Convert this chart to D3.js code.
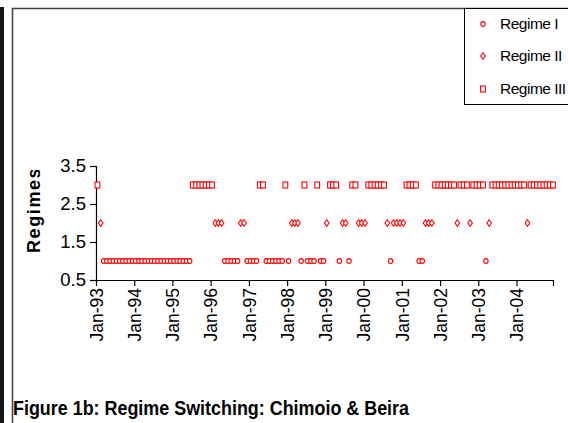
<!DOCTYPE html>
<html>
<head>
<meta charset="utf-8">
<script src="https://cdn.jsdelivr.net/npm/d3@7"></script>
<style>
  html, body { margin: 0; padding: 0; background: #fff; }
  svg { display: block; }
  text { font-family: "Liberation Sans", Arial, sans-serif; }
</style>
</head>
<body>
<svg id="chart" width="568" height="423"></svg>
<script>
// Monthly regime classification, Jan-1993 .. Dec-2004 (one row per year)
const years = [1993, 1994, 1995, 1996, 1997, 1998, 1999, 2000, 2001, 2002, 2003, 2004];
const regimeRows = [
  [3, 2, 1, 1, 1, 1, 1, 1, 1, 1, 1, 1],
  [1, 1, 1, 1, 1, 1, 1, 1, 1, 1, 1, 1],
  [1, 1, 1, 1, 1, 1, 3, 3, 3, 3, 3, 3],
  [3, 2, 2, 2, 1, 1, 1, 1, 1, 2, 2, 1],
  [1, 1, 1, 3, 3, 1, 1, 1, 1, 1, 1, 3],
  [1, 2, 2, 2, 1, 3, 1, 1, 1, 3, 1, 1],
  [2, 3, 3, 3, 1, 2, 2, 1, 3, 3, 2, 2],
  [2, 3, 3, 3, 3, 3, 3, 2, 1, 2, 2, 2],
  [2, 3, 3, 3, 3, 1, 1, 2, 2, 2, 3, 3],
  [3, 3, 3, 3, 3, 2, 3, 3, 3, 2, 3, 3],
  [3, 3, 1, 2, 3, 3, 3, 3, 3, 3, 3, 3],
  [3, 3, 3, 2, 3, 3, 3, 3, 3, 3, 3, 3]
];
const seriesNames = ["Regime I", "Regime II", "Regime III"];
const yTicks = [0.5, 1.5, 2.5, 3.5];
const titleText = "Figure 1b: Regime Switching: Chimoio & Beira";
const yTitle = "Regimes";

const RED = "#ff0000";
const svg = d3.select("#chart");

// points: one per month, placed mid-month
const points = [];
years.forEach((yr, yi) => {
  regimeRows[yi].forEach((r, mi) => {
    points.push({ date: new Date(yr, mi, 15), regime: r });
  });
});

// chart frame
svg.append("rect").attr("x", 0).attr("y", 7).attr("width", 4).attr("height", 416).attr("fill", "#161616");
svg.append("path").attr("d", "M12.5,423 V8.5 H568").attr("fill", "none")
  .attr("stroke", "#444").attr("stroke-width", 1.6);

const x = d3.scaleTime()
  .domain([new Date(1993, 0, 1), new Date(2004, 11, 15)])
  .range([96, 553]);
const y = d3.scaleLinear().domain([0.5, 3.5]).range([280, 166]);

// y axis
const yAxis = svg.append("g").attr("transform", "translate(96,0)")
  .call(d3.axisLeft(y).tickValues(yTicks).tickSize(6).tickPadding(4).tickFormat(d3.format(".1f")));
yAxis.select(".domain").attr("stroke", "#000").attr("stroke-width", 1.2);
yAxis.selectAll(".tick line").attr("stroke", "#000").attr("stroke-width", 1.2);
yAxis.selectAll(".tick text").attr("font-size", 18.5).attr("fill", "#000")
  .attr("font-family", "'Liberation Sans', Arial, sans-serif");

// x axis: yearly ticks plus closing tick at axis end
const xTickDates = years.map(yr => new Date(yr, 0, 1)).concat([new Date(2004, 11, 15)]);
const fmt = d3.timeFormat("%b-%y");
const xAxis = svg.append("g").attr("transform", "translate(0,280)")
  .call(d3.axisBottom(x).tickValues(xTickDates).tickSize(6)
    .tickFormat(d => d.getMonth() === 0 && d.getDate() === 1 ? fmt(d) : "")
    .tickSizeOuter(0));
xAxis.select(".domain").attr("stroke", "#000").attr("stroke-width", 1.2);
xAxis.selectAll(".tick line").attr("stroke", "#000").attr("stroke-width", 1.2);
xAxis.selectAll(".tick text")
  .attr("font-size", 17.5).attr("fill", "#000")
  .attr("font-family", "'Liberation Sans', Arial, sans-serif")
  .attr("text-anchor", "end")
  .attr("transform", "rotate(-90)")
  .attr("x", -8).attr("y", 0).attr("dy", "0.36em");

// y axis title (clipped at its top end)
svg.append("clipPath").attr("id", "ytclip")
  .append("rect").attr("x", 0).attr("y", 170).attr("width", 80).attr("height", 120);
svg.append("g").attr("clip-path", "url(#ytclip)")
  .append("text")
  .attr("transform", "translate(40,253) rotate(-90)")
  .attr("font-size", 18).attr("font-weight", "bold").attr("fill", "#000")
  .attr("letter-spacing", 1.6)
  .text(yTitle);

// marker shapes
function drawMarker(g, regime, cx, cy) {
  if (regime === 1) {
    g.append("ellipse").attr("cx", cx).attr("cy", cy).attr("rx", 2.2).attr("ry", 2.4)
      .attr("fill", "#fff").attr("stroke", RED).attr("stroke-width", 1.1);
  } else if (regime === 2) {
    g.append("path")
      .attr("d", `M${cx},${cy - 3.2} L${cx + 2.3},${cy} L${cx},${cy + 3.2} L${cx - 2.3},${cy} Z`)
      .attr("fill", "#fff").attr("stroke", RED).attr("stroke-width", 1.1);
  } else {
    g.append("rect").attr("x", cx - 2.4).attr("y", cy - 3).attr("width", 4.8).attr("height", 6)
      .attr("fill", "#fff").attr("stroke", RED).attr("stroke-width", 1.1);
  }
}

const marks = svg.append("g");
points.forEach(p => drawMarker(marks, p.regime, x(p.date), y(p.regime)));

// legend
const legend = svg.append("g");
legend.append("rect").attr("x", 464.5).attr("y", 8.5).attr("width", 130).attr("height", 96)
  .attr("fill", "#fff").attr("stroke", "#000").attr("stroke-width", 1);
const legendY = [24, 56, 89];
seriesNames.forEach((name, i) => {
  drawMarker(legend, i + 1, 483, legendY[i]);
  legend.append("text").attr("x", 500).attr("y", legendY[i]).attr("dy", "0.35em")
    .attr("font-size", 15.5).attr("fill", "#000").attr("letter-spacing", -0.5).text(name);
});

// figure caption
svg.append("text").attr("x", 13).attr("y", 415)
  .attr("font-size", 19.5).attr("font-weight", "bold").attr("fill", "#000")
  .attr("textLength", 396).attr("lengthAdjust", "spacingAndGlyphs")
  .text(titleText);
</script>
</body>
</html>
